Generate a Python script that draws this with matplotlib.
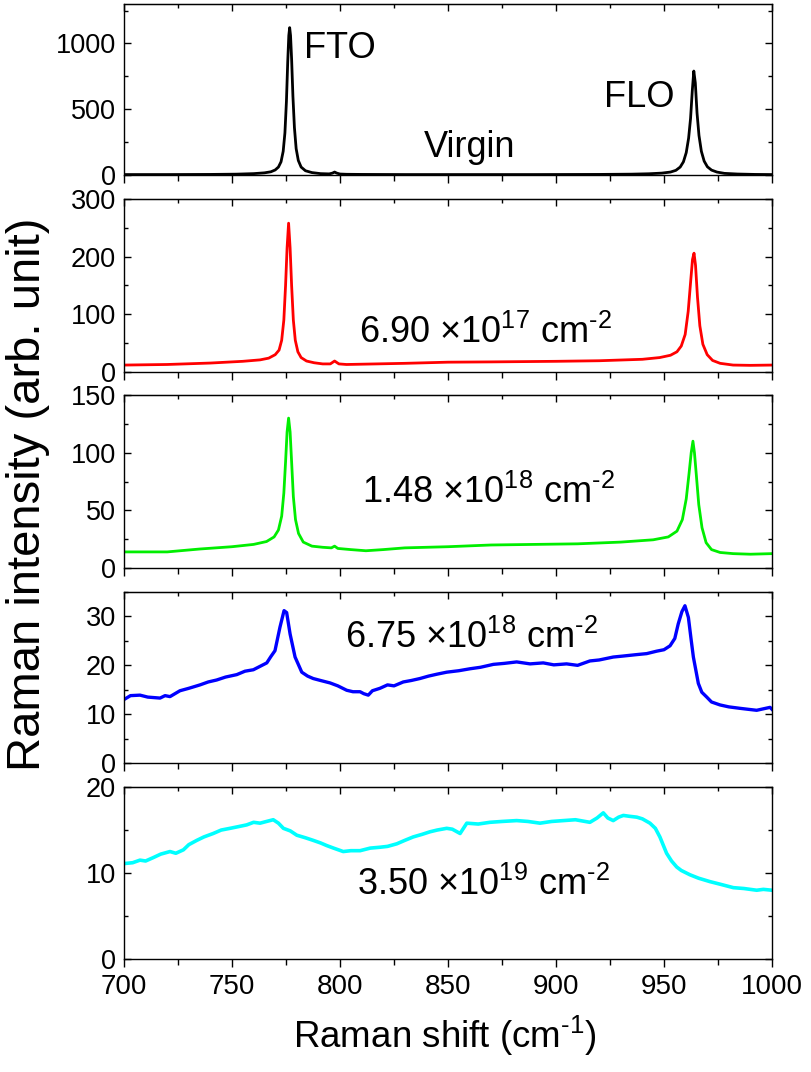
import matplotlib
matplotlib.use('Agg')
import matplotlib.pyplot as plt
from matplotlib.ticker import MultipleLocator

plt.rcParams['font.family'] = ['Liberation Sans', 'DejaVu Sans']
plt.rcParams['mathtext.fontset'] = 'custom'
plt.rcParams['mathtext.rm'] = 'Liberation Sans'
plt.rcParams['mathtext.it'] = 'Liberation Sans'
plt.rcParams['mathtext.default'] = 'regular'

# virgin sample
x_virgin = [700, 720, 740, 752, 760, 765, 768, 770, 771.5, 772.7, 773.7, 774.5, 775.2, 775.8, 776.3, 776.7,
            777.1, 777.6, 778.2, 778.9, 779.7, 780.7, 782, 784, 787, 791, 795, 796.5, 797.5, 798.5, 800, 803,
            810, 830, 860, 890, 920, 935, 943, 949, 953, 955.5, 957.5, 959, 960.3, 961.4, 962.3, 963.1, 963.8,
            964.5, 965.3, 966.2, 967.3, 968.6, 970.1, 972, 974.5, 978, 984, 992, 1000]
y_virgin = [3, 3, 4, 6, 10, 16, 24, 38, 60, 100, 180, 320, 560, 860, 1060, 1120,
            1060, 880, 600, 360, 200, 110, 60, 32, 18, 10, 8, 14, 22, 14, 7, 5,
            4, 3, 3, 3, 4, 6, 9, 14, 22, 35, 60, 100, 170, 280, 430, 640, 790,
            700, 470, 300, 180, 105, 62, 37, 22, 12, 7, 4, 3]

# 6.90e17 cm-2
x_d1 = [700, 720, 740, 755, 763, 767, 770, 771.8, 773, 774, 774.8, 775.5, 776.2, 776.9, 777.6, 778.4, 779.3,
        780.5, 782, 784.5, 788, 792, 795.5, 797.5, 799.5, 803, 810, 830, 850, 870, 900, 920, 940, 948, 953,
        956, 958, 959.8, 961.2, 962.3, 963.2, 963.9, 964.6, 965.5, 966.6, 968, 970, 972.5, 976, 982, 990, 1000]
y_d1 = [12, 13, 15.5, 18.5, 21, 24, 30, 38, 55, 90, 150, 215, 258, 215, 150, 90, 55,
        35, 25, 19, 16, 14, 14, 19, 14, 13, 13.5, 15, 17, 17.5, 18.5, 19.5, 22, 25, 29,
        35, 45, 65, 105, 155, 195, 206, 185, 130, 80, 48, 30, 20, 15, 12, 11.5, 12]

# 1.48e18 cm-2
x_d2 = [700, 720, 735, 750, 760, 766, 769.5, 771.5, 773, 774, 774.8, 775.5, 776.2, 776.9, 777.6, 778.4,
        779.4, 780.8, 783, 787, 792, 796, 797.5, 799, 805, 812, 820, 830, 850, 870, 890, 910, 930, 945,
        952, 956, 958.5, 960.3, 961.6, 962.6, 963.4, 964.1, 965, 966.1, 967.6, 969.5, 972, 976, 982, 990, 1000]
y_d2 = [14, 14, 16.5, 18.5, 20.5, 23, 27, 33, 45, 65, 92, 118, 130, 118, 92, 62,
        42, 30, 22.5, 19, 18, 17.5, 19, 17, 16, 15, 16, 17.5, 18.5, 20, 20.5, 21, 22.5, 24.5,
        27, 32, 42, 60, 82, 100, 110, 100, 80, 55, 35, 22, 16, 13.5, 12.5, 12, 12.5]

# 6.75e18 cm-2
x_d3 = [700, 703, 707.4, 711, 716.7, 719, 721.3, 725.9, 730, 735.2, 739, 742.9, 747, 752.2, 756, 759.9, 763,
        766.1, 768, 769.9, 772.2, 774.1, 775.3, 776.9, 779.2, 782.3, 785, 787.6, 791, 795.4, 799, 803.1, 806,
        809.3, 811, 813.1, 815, 818.5, 822, 825, 829.3, 833, 837, 841, 845, 849.4, 855, 860.2, 865, 871, 876,
        881.8, 888, 894.1, 899, 904.9, 910, 915.7, 920, 926.5, 931, 937.4, 942, 946.6, 950, 952.8, 955, 956.6,
        958.3, 959.7, 961.3, 962.5, 963.6, 965.9, 967.5, 969.8, 972, 975.9, 980, 985.2, 989, 992.9, 996, 999.1, 1000]
y_d3 = [13.0, 13.8, 13.9, 13.5, 13.3, 13.8, 13.6, 14.8, 15.3, 16.0, 16.6, 17.0, 17.6, 18.1, 18.8, 19.1, 19.8,
        20.5, 21.8, 23.0, 27.8, 31.2, 30.8, 26.4, 21.7, 18.6, 17.8, 17.3, 16.9, 16.4, 15.8, 14.9, 14.6,
        14.6, 14.2, 13.9, 14.8, 15.3, 16.0, 15.8, 16.6, 16.9, 17.3, 17.8, 18.2, 18.6, 18.9, 19.3, 19.6, 20.2, 20.4,
        20.7, 20.3, 20.5, 20.1, 20.3, 20.0, 20.9, 21.1, 21.7, 21.9, 22.2, 22.4, 22.9, 23.2, 24.0, 25.5, 28.5,
        31.0, 32.2, 29.8, 25.5, 21.7, 16.3, 14.5, 13.5, 12.5, 11.9, 11.5, 11.2, 11.0, 10.8, 11.1, 11.4, 11.0]

# 3.50e19 cm-2
x_d4 = [700, 704, 707.4, 710, 713.6, 717, 721.3, 724, 727.5, 730, 733.7, 737, 741.3, 745, 749.1, 753, 756.8,
        760, 763, 766, 769.1, 771.5, 773.8, 777, 780, 784, 787.6, 791, 793.8, 797, 801.5, 805, 809.3, 814,
        818.5, 822, 826.3, 830, 833.9, 838, 841.7, 845, 849.4, 852, 855.6, 858.7, 864, 869.4, 875, 881.8, 887,
        892.6, 898, 903.4, 909, 915.7, 919, 921.9, 924, 926.5, 929, 931.2, 934, 937.4, 940, 943.5, 946, 948.1,
        951.2, 953.5, 955.9, 958, 962, 966, 971.3, 976, 982.1, 987, 992.9, 996, 1000]
y_d4 = [11.1, 11.2, 11.5, 11.4, 11.8, 12.2, 12.5, 12.3, 12.7, 13.3, 13.8, 14.2, 14.6, 15.0, 15.2, 15.4, 15.6,
        15.9, 15.8, 16.0, 16.2, 15.8, 15.2, 14.9, 14.4, 14.1, 13.8, 13.5, 13.2, 12.9, 12.5, 12.6, 12.6, 12.9,
        13.0, 13.1, 13.4, 13.8, 14.2, 14.5, 14.8, 15.0, 15.2, 15.1, 14.6, 15.8, 15.7, 15.9, 16.0, 16.1, 16.0,
        15.8, 16.0, 16.1, 16.2, 15.9, 16.4, 17.0, 16.4, 16.1, 16.5, 16.7, 16.6, 16.5, 16.3, 15.8, 15.2, 14.2,
        12.3, 11.4, 10.7, 10.3, 9.8, 9.4, 9.0, 8.7, 8.3, 8.2, 8.0, 8.1, 8.0]

xs = [x_virgin, x_d1, x_d2, x_d3, x_d4]
ys = [y_virgin, y_d1, y_d2, y_d3, y_d4]
colors = ['black', '#ff0000', '#00ee00', '#0000ff', '#00ffff']
widths = [2.0, 2.0, 2.0, 2.4, 2.6]
ylims = [1300, 300, 150, 35, 20]
ymajor = [500, 100, 50, 10, 10]
yminor = [250, 50, 25, 5, 5]
dose_labels = ['6.90 $\\times$10$^{17}$ cm$^{\u20102}$', '1.48 $\\times$10$^{18}$ cm$^{\u20102}$',
               '6.75 $\\times$10$^{18}$ cm$^{\u20102}$', '3.50 $\\times$10$^{19}$ cm$^{\u20102}$']
dose_pos = [(809, 50), (810, 56), (802.5, 23.6), (808, 7.45)]

# panel boxes in figure fraction: (bottom, height)
boxes = [(0.8368, 0.1595), (0.6530, 0.1614), (0.4701, 0.1614), (0.2882, 0.1595), (0.1054, 0.1604)]

fig = plt.figure(figsize=(8.11, 10.72), dpi=100)
axes = []
for i in range(5):
    b, h = boxes[i]
    ax = fig.add_axes([0.1529, b, 0.799, h])
    ax.plot(xs[i], ys[i], color=colors[i], lw=widths[i])
    ax.set_xlim(700, 1000)
    ax.set_ylim(0, ylims[i])
    ax.xaxis.set_major_locator(MultipleLocator(50))
    ax.xaxis.set_minor_locator(MultipleLocator(25))
    ax.yaxis.set_major_locator(MultipleLocator(ymajor[i]))
    ax.yaxis.set_minor_locator(MultipleLocator(yminor[i]))
    ax.tick_params(axis='x', which='both', direction='out', top=False, labelsize=20, pad=5)
    ax.tick_params(axis='x', which='major', length=6, width=1)
    ax.tick_params(axis='x', which='minor', length=4, width=1)
    ax.tick_params(axis='y', which='both', direction='in', left=True, right=True, labelsize=19.5, pad=6)
    ax.tick_params(axis='y', which='major', length=5, width=1)
    ax.tick_params(axis='y', which='minor', length=3, width=1)
    if i < 4:
        ax.tick_params(axis='x', labelbottom=False)
    sec = ax.secondary_xaxis('top')
    sec.xaxis.set_major_locator(MultipleLocator(50))
    sec.xaxis.set_minor_locator(MultipleLocator(25))
    sec.tick_params(which='both', direction='in', labeltop=False)
    sec.tick_params(which='major', length=5, width=1)
    sec.tick_params(which='minor', length=3, width=1)
    for s in ax.spines.values():
        s.set_linewidth(1)
    axes.append(ax)

axes[0].text(783.3, 888, 'FTO', fontsize=26, ha='left', va='baseline')
axes[0].text(922.2, 518, 'FLO', fontsize=26, ha='left', va='baseline')
axes[0].text(838.9, 139, 'Virgin', fontsize=26, ha='left', va='baseline')
for i in range(4):
    axes[i + 1].text(dose_pos[i][0], dose_pos[i][1], dose_labels[i], fontsize=26,
                     ha='left', va='baseline')

fig.text(0.035, 0.539, 'Raman intensity (arb. unit)', rotation=90, fontsize=34,
         ha='center', va='center')
fig.text(0.549, 0.034, 'Raman shift (cm$^{\u20101}$)', fontsize=26.5, ha='center', va='center')

fig.savefig('out.png', dpi=100)
